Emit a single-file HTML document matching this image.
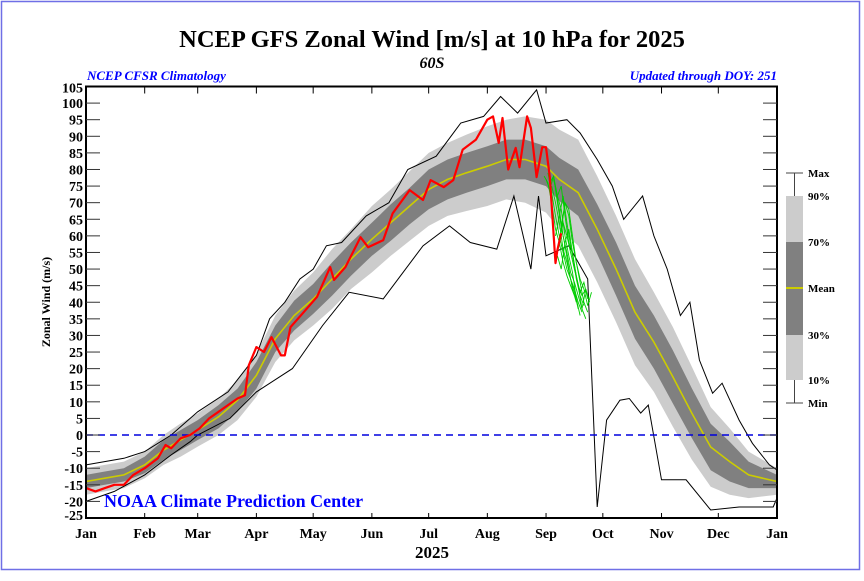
<!DOCTYPE html>
<html><head><meta charset="utf-8">
<style>
html,body{margin:0;padding:0;background:#fff;}
body{width:864px;height:576px;overflow:hidden;}
svg text{font-family:"Liberation Serif",serif;font-weight:bold;}
</style></head>
<body>
<svg id="chart" width="864" height="576" viewBox="0 0 864 576" xmlns="http://www.w3.org/2000/svg">
<rect x="1.5" y="1.5" width="858" height="568" fill="none" stroke="#6f6fe6" stroke-width="1.5"/>
<text x="432" y="47" text-anchor="middle" font-size="24.5">NCEP GFS Zonal Wind [m/s] at 10 hPa for 2025</text>
<text x="432" y="68" text-anchor="middle" font-size="16" font-style="italic">60S</text>
<text x="87" y="80" font-size="13" font-style="italic" fill="#0000ff">NCEP CFSR Climatology</text>
<text x="777" y="80" text-anchor="end" font-size="13" font-style="italic" fill="#0000ff">Updated through DOY: 251</text>
<text transform="translate(50,302) rotate(-90)" text-anchor="middle" font-size="12">Zonal Wind (m/s)</text>
<text x="432" y="558" text-anchor="middle" font-size="17">2025</text>
<g id="plot"></g>
<g id="axes"></g>
<text x="104" y="507" font-size="18" fill="#0000ff" font-weight="bold">NOAA Climate Prediction Center</text>
<g id="legend"></g>
</svg>
<script>
const clDoy = [0,10,20,31,41,50,59,70,80,90,100,110,120,130,140,151,161,171,181,191,201,212,222,232,243,250,260,270,280,290,300,310,320,330,340,350,365];
const clMean = [-14,-13,-12,-9,-4.5,-1.5,1.5,5.5,10.5,18,29,36,41,47,53,59,64,69,74,77,79,81,83,83,81,77,73,62,50,37,28,17.5,6.6,-3.6,-8,-12,-14];
const clD30 = [2,2,2,2.5,3,3,3,3.5,3.5,4,4,4.5,4.5,5,5,5,5.5,5.5,6,6,6,6,6,6,6,6.5,7,7.5,8,8,8,8,7.5,7,6,4,2];
const clD10 = [4,4,4,4,4.5,5,5,5.5,6,6.5,7,7.5,8,9,9,10,10,10.5,11,11,11.5,12,12,13,14,15,16,16,16,16,15,15,14,12,10,7,4];
const maxDoy = [0,20,31,45,59,75,90,97,105,113,120,127,135,148,160,170,185,198,210,219,228,238,243,254,261,270,278,284,294,300,307,314,319,324,331,336,345,352,361,365];
const maxVal = [-9,-7,-5,0,7,13,24,35,40,47,50,57,58,66,70,80,84,94,96,102,97,104,94,95,91,83,75,65,72,60,50,36,40,22.6,12.6,15.6,4.5,-2.5,-9,-10.5];
const minDoy = [0,15,31,45,55,59,76,90,109,125,139,157,178,192,203,217,226,235,239,243,255,265,270,275,282,287,293,297,304,317,330,345,363,365];
const minVal = [-20,-17,-12,-6,-2,0,5,13,20,33,43,41,57,63,58,56,72,50,72,54,57,47,-21.7,4.5,10.5,11,6.6,9,-13.5,-13.5,-22.6,-21.7,-21.7,-19];
const obsDoy = [0,5,10,15,20,25,31,38,42,45,50,55,60,65,70,75,80,84,86,90,94,98,103,105,108,115,122,129,131,137,145,149,157,162,171,178,182,189,194,199,206,212,215,218,220,223,227,229,233,235,238,241,243,245,248,249,251];
const obsVal = [-16,-17,-16,-15,-15,-12,-10,-7,-3,-4,-1,0,2,5,7,9,11,12,21,26.5,25,29.5,24,24,32.5,37,41.6,50.6,46.7,50.6,59.6,56.6,58.7,66.8,73.8,70.8,76.8,74.7,76.8,86,89,95,96,88,95.5,80,86.5,80.7,96,92.5,77.7,86.7,86.7,77.7,51.8,55.7,60.8];
const fcStart = [242,243,244,245,246,247,248,248,249,249,250,251];
const fcStep = 2;
const fc1 = [78,76,70,62,58,52,48,45,42];
const fc2 = [77,74,78,70,63,57,50,44,40];
const fc3 = [79,73,66,60,55,50,47,43,38];
const fc4 = [76,78,72,68,60,54,49,41,36];
const fc5 = [75,70,64,56,52,47,44,40,37];
const fc6 = [77,72,75,66,58,55,47,42,39];
const fc7 = [74,68,60,55,49,46,42,38,35];
const fc8 = [60,66,72,64,57,51,45,42,44];
const fc9 = [56,62,70,68,60,52,46,40,37];
const fc10 = [54,50,58,62,55,48,43,46,41];
const fc11 = [58,64,60,55,50,45,38,44,40];
const fc12 = [62,70,66,58,52,47,44,39,43];
const forecasts = [fc1,fc2,fc3,fc4,fc5,fc6,fc7,fc8,fc9,fc10,fc11,fc12];
const yTicks = [-25,-20,-15,-10,-5,0,5,10,15,20,25,30,35,40,45,50,55,60,65,70,75,80,85,90,95,100,105];
const monthNames = ["Jan","Feb","Mar","Apr","May","Jun","Jul","Aug","Sep","Oct","Nov","Dec","Jan"];
const monthDoy = [0,31,59,90,120,151,181,212,243,273,304,334,365];

const X0=86, X1=777, Y0=518, Y1=86.5;
const xs = d => X0 + d*(X1-X0)/365;
const ys = v => Y0 - (v+25)*(Y0-Y1)/130;
const NS="http://www.w3.org/2000/svg";
const plot=document.getElementById('plot'), axes=document.getElementById('axes'), legend=document.getElementById('legend');
function mk(tag, parent, attrs){const e=document.createElementNS(NS,tag);for(const k in attrs)e.setAttribute(k,attrs[k]);parent.appendChild(e);return e;}
function pts(ds,vs){return ds.map((d,i)=>xs(d).toFixed(1)+','+ys(vs[i]).toFixed(1)).join(' ');}
function band(lo,hi){return clDoy.map((d,i)=>xs(d).toFixed(1)+','+ys(hi[i]).toFixed(1)).join(' ')+' '+clDoy.slice().reverse().map((d,j)=>{const i=clDoy.length-1-j;return xs(d).toFixed(1)+','+ys(lo[i]).toFixed(1);}).join(' ');}
const p10=clMean.map((m,i)=>m-clD10[i]), p90=clMean.map((m,i)=>m+clD10[i]);
const p30=clMean.map((m,i)=>m-clD30[i]), p70=clMean.map((m,i)=>m+clD30[i]);

let e;
e=mk('polygon',plot,{points:band(p10,p90),fill:'#cccccc'});


e=mk('polygon',plot,{points:band(p30,p70),fill:'#808080'});


e=mk('polyline',plot,{points:pts(clDoy,clMean),fill:'none',stroke:'#cccc00','stroke-width':1.6});


e=mk('polyline',plot,{points:pts(maxDoy,maxVal),fill:'none',stroke:'#000','stroke-width':1});


e=mk('polyline',plot,{points:pts(minDoy,minVal),fill:'none',stroke:'#000','stroke-width':1});


e=mk('line',plot,{x1:X0,x2:X1,y1:ys(0),y2:ys(0),stroke:'#0000dd','stroke-width':1.5,'stroke-dasharray':'7,5'});


forecasts.forEach((f,k)=>{
  const ds=f.map((_,i)=>fcStart[k]+i*fcStep);
  const l=mk('polyline',plot,{points:pts(ds,f),fill:'none',stroke:'#00cc00','stroke-width':0.9});
  
  
});
e=mk('polyline',plot,{points:pts(obsDoy,obsVal),fill:'none',stroke:'#ff0000','stroke-width':2.2,'stroke-linejoin':'round'});



e=mk('rect',axes,{x:X0,y:Y1,width:X1-X0,height:Y0-Y1,fill:'none',stroke:'#000','stroke-width':2});


yTicks.forEach(v=>{
  const y=ys(v);
  if(v>-25&&v<105){
    let t=mk('line',axes,{x1:X0,x2:X0+14,y1:y,y2:y,stroke:'#333','stroke-width':1});
    
    
    t=mk('line',axes,{x1:X1-14,x2:X1,y1:y,y2:y,stroke:'#333','stroke-width':1});
    
    
  }
  const lb=mk('text',axes,{x:X0-3,y:y+(v==-25?2:v==105?6:5),'text-anchor':'end','font-size':14});
  lb.textContent=v;
  
  
});
monthDoy.forEach((d,i)=>{
  const x=xs(d);
  if(i>0&&i<12){
    let t=mk('line',axes,{x1:x,x2:x,y1:Y1,y2:Y1+7,stroke:'#000','stroke-width':1});
    
    
    t=mk('line',axes,{x1:x,x2:x,y1:Y0-5,y2:Y0,stroke:'#000','stroke-width':1});
    
    
  }
  const lb=mk('text',axes,{x:x,y:538,'text-anchor':'middle','font-size':14});
  lb.textContent=monthNames[i];
  
  
});

const LX=786,LW=17;
e=mk('rect',legend,{x:LX,y:196,width:LW,height:46,fill:'#cccccc'});


e=mk('rect',legend,{x:LX,y:242,width:LW,height:93,fill:'#808080'});


e=mk('rect',legend,{x:LX,y:335,width:LW,height:45,fill:'#cccccc'});


e=mk('line',legend,{x1:LX,x2:LX+LW,y1:288,y2:288,stroke:'#cccc00','stroke-width':2});


e=mk('path',legend,{d:`M${LX} 173H${LX+LW}M${LX+LW/2} 173V196M${LX+LW/2} 380V403M${LX} 403H${LX+LW}`,stroke:'#444','stroke-width':1,fill:'none'});


const legLabels=["Max","90%","70%","Mean","30%","10%","Min"];
const legY=[177,200,246,292,339,384,407];
legLabels.forEach((s,i)=>{
  const t=mk('text',legend,{x:808,y:legY[i],'font-size':11});
  t.textContent=s;
  
  
});
</script>
</body></html>
